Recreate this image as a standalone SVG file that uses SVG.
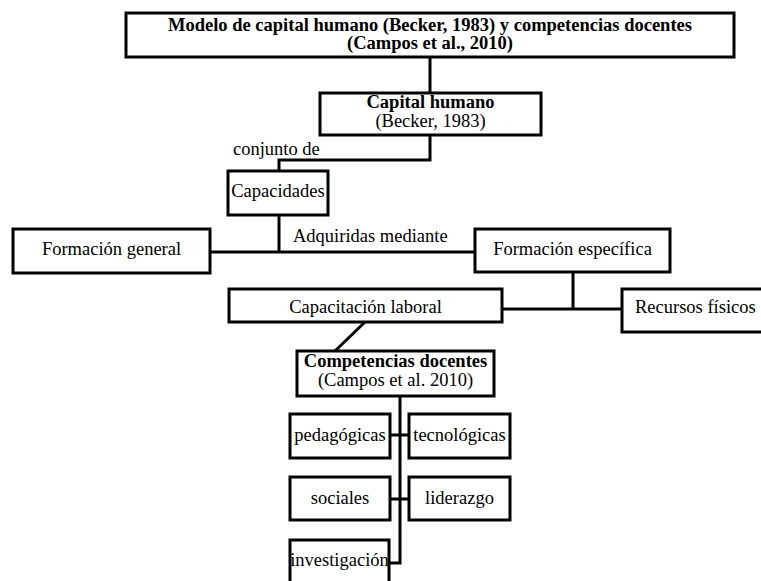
<svg xmlns="http://www.w3.org/2000/svg" width="761" height="581" viewBox="0 0 761 581">
<style>
.box{fill:#fff;stroke:#000;stroke-width:3}
.ln{fill:none;stroke:#000;stroke-width:3}
text{font-family:"Liberation Serif","Times New Roman",serif;font-size:18.5px;fill:#000}
.c{text-anchor:middle}
.b{font-weight:bold}
</style>
<rect width="761" height="581" fill="#fff"/>
<g id="connectors">
<path class="ln" d="M430 57V93"/>
<path class="ln" d="M430 135V160H279V171"/>
<path class="ln" d="M279 215V252"/>
<path class="ln" d="M210 252H475"/>
<path class="ln" d="M573 272V309"/>
<path class="ln" d="M502 309H622"/>
<path class="ln" d="M365 322L335 351"/>
<path class="ln" d="M400 396V563H389"/>
<path class="ln" d="M390 435H409"/>
<path class="ln" d="M390 499H409"/>
<text x="233" y="155">conjunto de</text>
<text x="293" y="242">Adquiridas mediante</text>
</g>
<g id="titulo">
<rect class="box" x="126" y="13" width="608" height="44"/>
<text class="c b" x="430" y="30.5">Modelo de capital humano (Becker, 1983) y competencias docentes</text>
<text class="c b" x="430" y="49">(Campos et al., 2010)</text>
</g>
<g id="capital-humano">
<rect class="box" x="320" y="93" width="221" height="42"/>
<text class="c b" x="430.5" y="108">Capital humano</text>
<text class="c" x="430.5" y="127">(Becker, 1983)</text>
</g>
<g id="capacidades">
<rect class="box" x="228" y="171" width="100" height="44"/>
<text class="c" x="278" y="197">Capacidades</text>
</g>
<g id="formacion-general">
<rect class="box" x="13" y="229" width="197" height="44"/>
<text class="c" x="111.5" y="255">Formación general</text>
</g>
<g id="formacion-especifica">
<rect class="box" x="475" y="229" width="195" height="43"/>
<text class="c" x="572.5" y="255">Formación específica</text>
</g>
<g id="capacitacion-laboral">
<rect class="box" x="229" y="289" width="273" height="33"/>
<text class="c" x="365.5" y="313">Capacitación laboral</text>
</g>
<g id="recursos-fisicos">
<rect class="box" x="622" y="289" width="150" height="43"/>
<text x="635" y="313">Recursos físicos</text>
</g>
<g id="competencias-docentes">
<rect class="box" x="297" y="351" width="197" height="45"/>
<text class="c b" x="395.5" y="367">Competencias docentes</text>
<text class="c" x="395.5" y="386">(Campos et al. 2010)</text>
</g>
<g id="pedagogicas">
<rect class="box" x="290" y="414" width="100" height="44"/>
<text class="c" x="340" y="441">pedagógicas</text>
</g>
<g id="tecnologicas">
<rect class="box" x="409" y="414" width="101" height="44"/>
<text class="c" x="459.5" y="441">tecnológicas</text>
</g>
<g id="sociales">
<rect class="box" x="290" y="477" width="100" height="43"/>
<text class="c" x="340" y="504">sociales</text>
</g>
<g id="liderazgo">
<rect class="box" x="409" y="477" width="101" height="43"/>
<text class="c" x="459.5" y="504">liderazgo</text>
</g>
<g id="investigacion">
<rect class="box" x="290" y="540" width="99" height="55"/>
<text class="c" x="339.5" y="566">investigación</text>
</g>
</svg>
